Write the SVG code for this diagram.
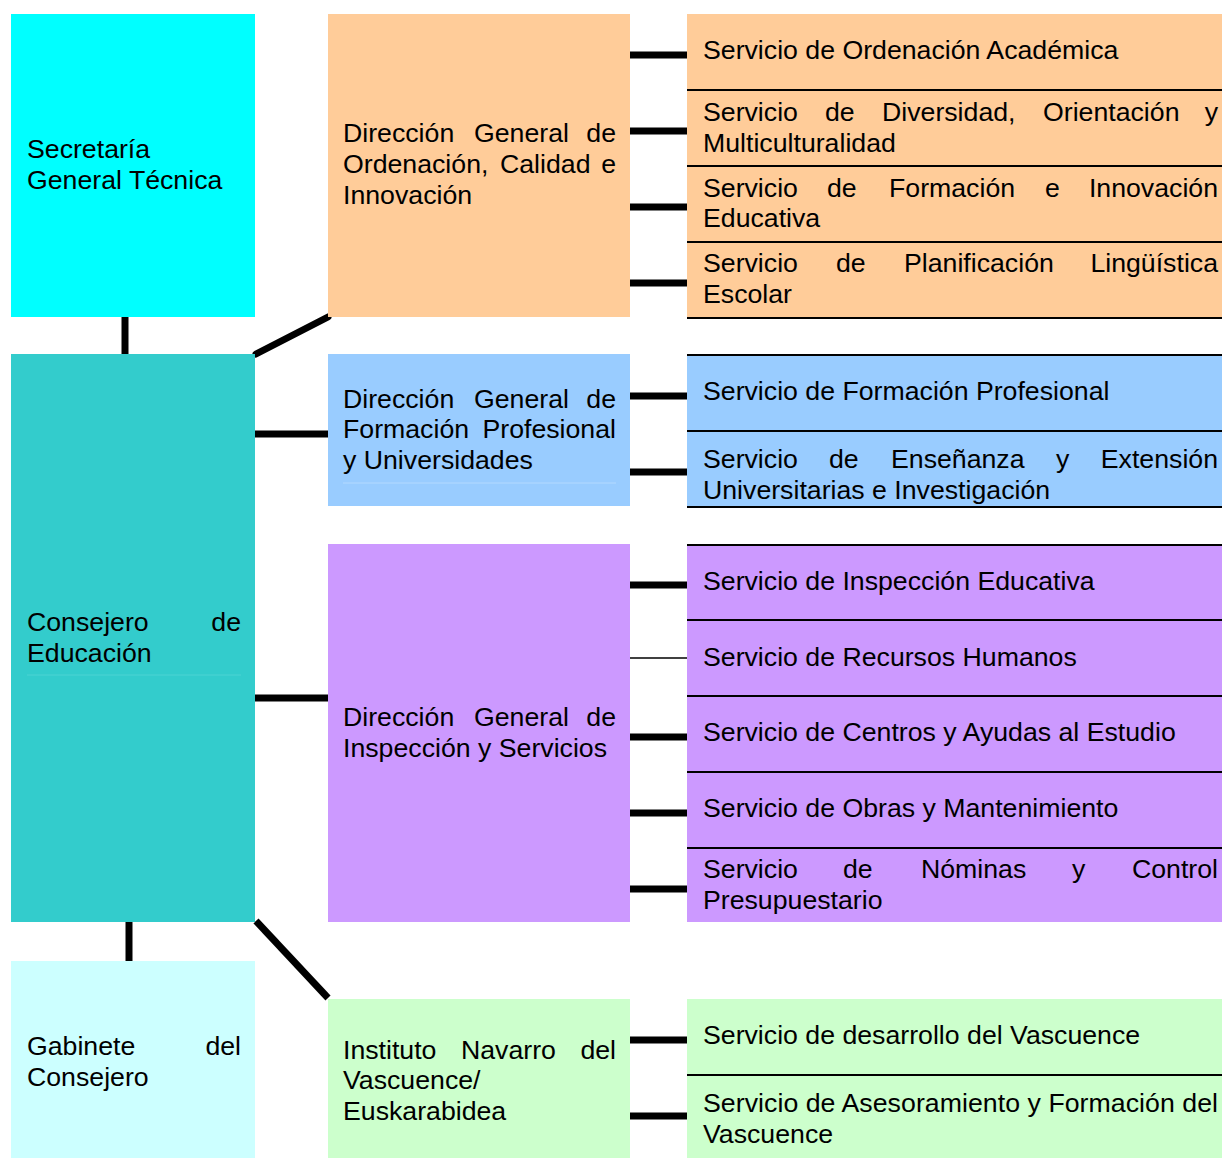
<svg xmlns="http://www.w3.org/2000/svg" width="1222" height="1158" viewBox="0 0 1222 1158">
<style>
text{font-family:"Liberation Sans",Arial,sans-serif;font-size:26.7px;fill:#000}
.c{stroke:#000;stroke-width:7;fill:none}
.thin{stroke:#000;stroke-width:1.5;fill:none}
.sep{stroke:#000;stroke-width:2;fill:none}
.faint{stroke-width:1;fill:none}
</style>
<rect width="1222" height="1158" fill="#fff"/>
<g id="connectors">
<line class="c" x1="125" y1="317" x2="125" y2="354"/>
<line class="c" x1="129" y1="922" x2="129" y2="961"/>
<line class="c" x1="256" y1="354" x2="328" y2="317" stroke-linecap="round" stroke-width="6"/>
<line class="c" x1="256" y1="921" x2="328" y2="998" stroke-width="6"/>
<line class="c" x1="255" y1="434" x2="328" y2="434"/>
<line class="c" x1="255" y1="698" x2="328" y2="698"/>
<line class="c" x1="630" y1="55" x2="687" y2="55"/>
<line class="c" x1="630" y1="131" x2="687" y2="131"/>
<line class="c" x1="630" y1="207" x2="687" y2="207"/>
<line class="c" x1="630" y1="283" x2="687" y2="283"/>
<line class="c" x1="630" y1="396" x2="687" y2="396"/>
<line class="c" x1="630" y1="472" x2="687" y2="472"/>
<line class="c" x1="630" y1="585" x2="687" y2="585"/>
<line class="thin" x1="630" y1="658" x2="687" y2="658"/>
<line class="c" x1="630" y1="737" x2="687" y2="737"/>
<line class="c" x1="630" y1="813" x2="687" y2="813"/>
<line class="c" x1="630" y1="889" x2="687" y2="889"/>
<line class="c" x1="630" y1="1040" x2="687" y2="1040"/>
<line class="c" x1="630" y1="1116" x2="687" y2="1116"/>
</g>
<g id="secretaria">
<rect x="11" y="14" width="244" height="303" fill="#00FFFF"/>
<text x="27" y="158">Secretaría</text>
<text x="27" y="189">General Técnica</text>
</g>
<g id="consejero">
<rect x="11" y="354" width="244" height="568" fill="#33CCCC"/>
<line class="faint" x1="27" y1="675" x2="241" y2="675" stroke="#4dd3d3"/>
<text y="631"><tspan x="27">Consejero</tspan><tspan x="241" text-anchor="end">de</tspan></text>
<text x="27" y="662">Educación</text>
</g>
<g id="gabinete">
<rect x="11" y="961" width="244" height="197" fill="#CCFFFF"/>
<text y="1055"><tspan x="27">Gabinete</tspan><tspan x="241" text-anchor="end">del</tspan></text>
<text x="27" y="1086">Consejero</text>
</g>
<g id="dg-ordenacion">
<rect x="328" y="14" width="302" height="303" fill="#FFCC99"/>
<text y="142"><tspan x="343">Dirección</tspan><tspan x="474">General</tspan><tspan x="616" text-anchor="end">de</tspan></text>
<text y="173"><tspan x="343">Ordenación,</tspan><tspan x="500">Calidad</tspan><tspan x="616" text-anchor="end">e</tspan></text>
<text x="343" y="204">Innovación</text>
</g>
<g id="dg-fp">
<rect x="328" y="354" width="302" height="152" fill="#99CCFF"/>
<line class="faint" x1="343" y1="483" x2="616" y2="483" stroke="#b3d9ff"/>
<text y="408"><tspan x="343">Dirección</tspan><tspan x="474">General</tspan><tspan x="616" text-anchor="end">de</tspan></text>
<text y="438"><tspan x="343">Formación</tspan><tspan x="616" text-anchor="end">Profesional</tspan></text>
<text x="343" y="469">y Universidades</text>
</g>
<g id="dg-inspeccion">
<rect x="328" y="544" width="302" height="378" fill="#CC99FF"/>
<text y="726"><tspan x="343">Dirección</tspan><tspan x="474">General</tspan><tspan x="616" text-anchor="end">de</tspan></text>
<text x="343" y="757">Inspección y Servicios</text>
</g>
<g id="instituto">
<rect x="328" y="999" width="302" height="159" fill="#CCFFCC"/>
<text y="1059"><tspan x="343">Instituto</tspan><tspan x="461">Navarro</tspan><tspan x="616" text-anchor="end">del</tspan></text>
<text x="343" y="1089">Vascuence/</text>
<text x="343" y="1120">Euskarabidea</text>
</g>
<g id="serv-ordenacion">
<rect x="687" y="14" width="535" height="76" fill="#FFCC99"/>
<text x="703" y="59">Servicio de Ordenación Académica</text>
</g>
<g id="serv-diversidad">
<rect x="687" y="90" width="535" height="76" fill="#FFCC99"/>
<text y="121"><tspan x="703">Servicio</tspan><tspan x="825">de</tspan><tspan x="882">Diversidad,</tspan><tspan x="1043">Orientación</tspan><tspan x="1218" text-anchor="end">y</tspan></text>
<text x="703" y="152">Multiculturalidad</text>
</g>
<g id="serv-formacion-innovacion">
<rect x="687" y="166" width="535" height="76" fill="#FFCC99"/>
<text y="197"><tspan x="703">Servicio</tspan><tspan x="827">de</tspan><tspan x="889">Formación</tspan><tspan x="1045">e</tspan><tspan x="1218" text-anchor="end">Innovación</tspan></text>
<text x="703" y="227">Educativa</text>
</g>
<g id="serv-planificacion">
<rect x="687" y="242" width="535" height="76" fill="#FFCC99"/>
<text y="272"><tspan x="703">Servicio</tspan><tspan x="836">de</tspan><tspan x="904">Planificación</tspan><tspan x="1218" text-anchor="end">Lingüística</tspan></text>
<text x="703" y="303">Escolar</text>
</g>
<g id="serv-fp">
<rect x="687" y="354" width="535" height="77" fill="#99CCFF"/>
<text x="703" y="400">Servicio de Formación Profesional</text>
</g>
<g id="serv-ensenanza">
<rect x="687" y="431" width="535" height="76" fill="#99CCFF"/>
<text y="468"><tspan x="703">Servicio</tspan><tspan x="829">de</tspan><tspan x="891">Enseñanza</tspan><tspan x="1056">y</tspan><tspan x="1218" text-anchor="end">Extensión</tspan></text>
<text x="703" y="499">Universitarias e Investigación</text>
</g>
<g id="serv-inspeccion">
<rect x="687" y="544" width="535" height="76" fill="#CC99FF"/>
<text x="703" y="590">Servicio de Inspección Educativa</text>
</g>
<g id="serv-rrhh">
<rect x="687" y="620" width="535" height="76" fill="#CC99FF"/>
<text x="703" y="666">Servicio de Recursos Humanos</text>
</g>
<g id="serv-centros">
<rect x="687" y="696" width="535" height="76" fill="#CC99FF"/>
<text x="703" y="741">Servicio de Centros y Ayudas al Estudio</text>
</g>
<g id="serv-obras">
<rect x="687" y="772" width="535" height="76" fill="#CC99FF"/>
<text x="703" y="817">Servicio de Obras y Mantenimiento</text>
</g>
<g id="serv-nominas">
<rect x="687" y="848" width="535" height="74" fill="#CC99FF"/>
<text y="878"><tspan x="703">Servicio</tspan><tspan x="843">de</tspan><tspan x="921">Nóminas</tspan><tspan x="1072">y</tspan><tspan x="1218" text-anchor="end">Control</tspan></text>
<text x="703" y="909">Presupuestario</text>
</g>
<g id="serv-desarrollo">
<rect x="687" y="999" width="535" height="76" fill="#CCFFCC"/>
<text x="703" y="1044">Servicio de desarrollo del Vascuence</text>
</g>
<g id="serv-asesoramiento">
<rect x="687" y="1075" width="535" height="83" fill="#CCFFCC"/>
<text x="703" y="1112" textLength="515" lengthAdjust="spacing">Servicio de Asesoramiento y Formación del</text>
<text x="703" y="1143">Vascuence</text>
</g>
<g id="separators">
<line class="sep" x1="687" y1="90" x2="1222" y2="90"/>
<line class="sep" x1="687" y1="166" x2="1222" y2="166"/>
<line class="sep" x1="687" y1="242" x2="1222" y2="242"/>
<line class="sep" x1="687" y1="318" x2="1222" y2="318"/>
<line class="sep" x1="687" y1="355" x2="1222" y2="355"/>
<line class="sep" x1="687" y1="431" x2="1222" y2="431"/>
<line class="sep" x1="687" y1="507" x2="1222" y2="507"/>
<line class="sep" x1="687" y1="545" x2="1222" y2="545"/>
<line class="sep" x1="687" y1="620" x2="1222" y2="620"/>
<line class="sep" x1="687" y1="696" x2="1222" y2="696"/>
<line class="sep" x1="687" y1="772" x2="1222" y2="772"/>
<line class="sep" x1="687" y1="848" x2="1222" y2="848"/>
<line class="sep" x1="687" y1="1075" x2="1222" y2="1075"/>
</g>
</svg>
